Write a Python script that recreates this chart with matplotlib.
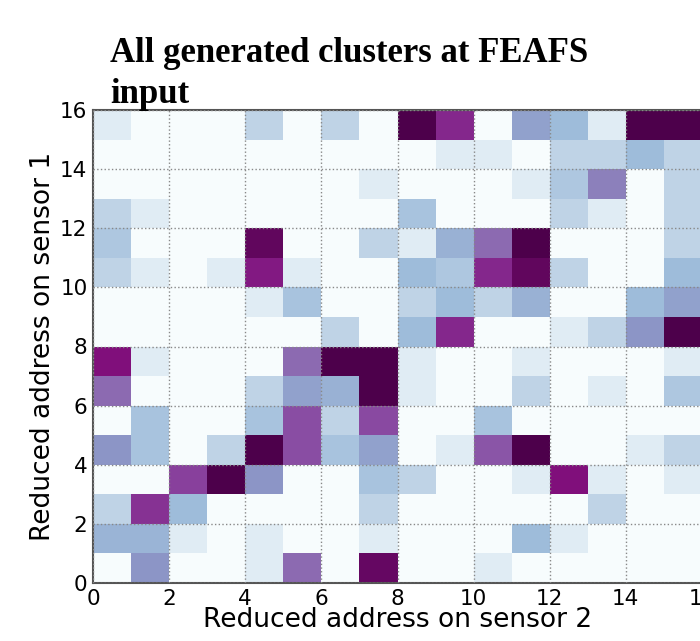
import numpy as np
import matplotlib
matplotlib.use('Agg')
import matplotlib.pyplot as plt

matplotlib.rcParams['font.family'] = 'DejaVu Sans'

# cluster counts per cell, one list per row of sensor 1 (top row first)
row15 = [1, 0, 0, 0, 2, 0, 2, 0, 8, 6.5, 0, 3.7, 3, 1, 8, 8]
row14 = [0, 0, 0, 0, 0, 0, 0, 0, 0, 1, 1, 0, 2, 2, 3, 2]
row13 = [0, 0, 0, 0, 0, 0, 0, 1, 0, 0, 0, 1, 2.5, 4.5, 0, 2]
row12 = [2, 1, 0, 0, 0, 0, 0, 0, 2.7, 0, 0, 0, 2, 1, 0, 2]
row11 = [2.5, 0, 0, 0, 7.6, 0, 0, 2, 1, 3.3, 5, 8, 0, 0, 0, 2]
row10 = [2, 1, 0, 1, 6.8, 1, 0, 0, 3, 2.5, 6.5, 7.6, 2, 0, 0, 3]
row9 = [0, 0, 0, 0, 1, 2.7, 0, 0, 2, 3, 2, 3.3, 0, 0, 3, 3.7]
row8 = [0, 0, 0, 0, 0, 0, 2, 0, 3, 6.5, 0, 0, 1, 2, 4, 8]
row7 = [7, 1, 0, 0, 0, 5, 8, 8, 1, 0, 0, 1, 0, 0, 0, 1]
row6 = [5, 0, 0, 0, 2, 3.7, 3.3, 8, 1, 0, 0, 2, 0, 1, 0, 2.5]
row5 = [0, 2.7, 0, 0, 2.7, 5.7, 2, 5.8, 0, 0, 2.7, 0, 0, 0, 0, 0]
row4 = [4, 2.7, 0, 2, 8, 5.7, 2.7, 3.7, 0, 1, 5.5, 8, 0, 0, 1, 2]
row3 = [0, 0, 6, 8, 4, 0, 0, 2.7, 2, 0, 0, 1, 7, 1, 0, 1]
row2 = [2, 6.3, 3, 0, 0, 0, 0, 2, 0, 0, 0, 0, 0, 2, 0, 0]
row1 = [3.2, 3.2, 1, 0, 1, 0, 0, 1, 0, 0, 0, 3, 1, 0, 0, 0]
row0 = [0, 4, 0, 0, 1, 5, 0, 7.5, 0, 0, 1, 0, 0, 0, 0, 0]

x_edges = np.arange(0, 17)
y_edges = np.arange(0, 17)
ticks = [0, 2, 4, 6, 8, 10, 12, 14, 16]

counts = np.array([row0, row1, row2, row3, row4, row5, row6, row7,
                   row8, row9, row10, row11, row12, row13, row14, row15])

fig = plt.figure(figsize=(7, 6.41), dpi=100)
ax = fig.add_axes([93/700, 58/641, 609/700, 473/641])

ax.pcolormesh(x_edges, y_edges, counts, cmap='BuPu', vmin=0, vmax=8)
ax.set_xlim(0, 16)
ax.set_ylim(0, 16)
ax.set_xticks(ticks)
ax.set_yticks(ticks)
ax.set_axisbelow(False)
ax.grid(True, color='#888888', linestyle=':', linewidth=1.0)
ax.tick_params(length=0, labelsize=15.5, pad=4)

for s in ax.spines.values():
    s.set_color('#555555')
    s.set_linewidth(1.5)

ax.set_xlabel('Reduced address on sensor 2', fontsize=19, labelpad=-1)
ax.set_ylabel('Reduced address on sensor 1', fontsize=19, labelpad=3)

fig.text(110/700, 1 - 103/641, 'All generated clusters at FEAFS\ninput',
         family='Liberation Serif', fontweight='bold', fontsize=25,
         ha='left', va='baseline', linespacing=1.3)

plt.savefig('out.png', dpi=100)
